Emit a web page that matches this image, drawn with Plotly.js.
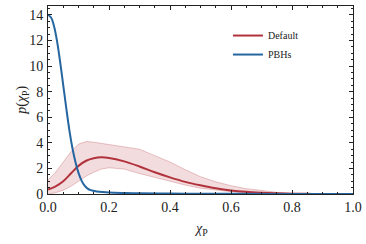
<!DOCTYPE html>
<html><head><meta charset="utf-8">
<script src="https://cdn.plot.ly/plotly-3.0.1.min.js"></script>
<style>html,body{margin:0;padding:0;background:#fff}</style>
</head><body><div id="plot" style="width:366px;height:244px"></div>
<script>
const xDef = [0, 0.025, 0.05, 0.075, 0.1, 0.125, 0.15, 0.175, 0.2, 0.25, 0.3, 0.35, 0.4, 0.45, 0.5, 0.55, 0.6, 0.65, 0.7, 0.75, 0.8, 0.85, 0.9, 1.0];
const defMedian = [0.35, 0.6, 1.0, 1.6, 2.2, 2.6, 2.8, 2.87, 2.82, 2.55, 2.15, 1.7, 1.3, 0.95, 0.68, 0.45, 0.28, 0.17, 0.1, 0.05, 0.02, 0.01, 0.0, 0.0];
const defUpper = [1.1, 1.7, 2.5, 3.3, 3.9, 4.1, 4.05, 3.95, 3.85, 3.7, 3.5, 3.0, 2.5, 1.9, 1.35, 0.95, 0.65, 0.42, 0.25, 0.13, 0.06, 0.02, 0.01, 0.0];
const defLower = [0.0, 0.1, 0.3, 0.6, 1.0, 1.4, 1.7, 1.95, 2.05, 1.95, 1.6, 1.3, 0.95, 0.7, 0.45, 0.3, 0.18, 0.1, 0.05, 0.02, 0.01, 0.0, 0.0, 0.0];
const xPBH = [0, 0.01, 0.02, 0.03, 0.04, 0.05, 0.06, 0.07, 0.08, 0.09, 0.1, 0.11, 0.12, 0.13, 0.14, 0.16, 0.18, 0.2, 0.25, 0.3, 0.4, 0.5, 0.6, 0.8, 1.0];
const pbh = [14.0, 13.8, 13.1, 11.9, 10.3, 8.5, 6.7, 5.0, 3.6, 2.5, 1.65, 1.05, 0.65, 0.42, 0.3, 0.2, 0.15, 0.12, 0.08, 0.05, 0.03, 0.02, 0.01, 0.0, 0.0];
const labels = ["Default", "PBHs"];
const xTitle = '<i>χ</i><sub>P</sub>';
const yTitle = '<i>p</i>(<i>χ</i><sub>P</sub>)';

const red = '#b2323c', blue = '#2566a0';
const serif = 'Liberation Serif, DejaVu Serif, serif';
const traces = [
  {x: xDef, y: defLower, mode: 'lines', line: {color: 'rgba(178,50,60,0.35)', width: 0.8}, showlegend: false, hoverinfo: 'skip'},
  {x: xDef, y: defUpper, mode: 'lines', fill: 'tonexty', fillcolor: 'rgba(178,50,60,0.17)', line: {color: 'rgba(178,50,60,0.35)', width: 0.8}, showlegend: false, hoverinfo: 'skip'},
  {x: xDef, y: defMedian, mode: 'lines', name: labels[0], line: {color: red, width: 2, shape: 'spline'}},
  {x: xPBH, y: pbh, mode: 'lines', name: labels[1], line: {color: blue, width: 2, shape: 'spline'}}
];
const axBase = {
  showline: true, linecolor: '#222', linewidth: 1, mirror: 'allticks',
  ticks: 'inside', ticklen: 4, tickcolor: '#222', showgrid: false, zeroline: false,
  tickfont: {family: serif, size: 14, color: '#222'}
};
const layout = {
  width: 366, height: 244,
  margin: {l: 48, r: 13, t: 6, b: 50},
  paper_bgcolor: '#fff', plot_bgcolor: '#fff',
  font: {family: serif, color: '#222'},
  xaxis: Object.assign({}, axBase, {
    range: [0, 1], dtick: 0.2, tickformat: '.1f',
    minor: {dtick: 0.05, ticks: 'inside', ticklen: 2, tickcolor: '#222'}
  }),
  yaxis: Object.assign({}, axBase, {
    range: [0, 14.7], dtick: 2, ticklabelstandoff: 1,
    minor: {dtick: 0.5, ticks: 'inside', ticklen: 2, tickcolor: '#222'}
  }),
  annotations: [
    {text: xTitle, xref: 'paper', yref: 'paper', x: 0.5, y: -0.19, xanchor: 'center', yanchor: 'middle', showarrow: false, font: {size: 14, family: serif, color: '#222'}},
    {text: yTitle, xref: 'paper', yref: 'paper', x: -0.086, y: 0.5, xanchor: 'center', yanchor: 'middle', textangle: -90, showarrow: false, font: {size: 14, family: serif, color: '#222'}}
  ],
  legend: {x: 0.59, y: 0.92, xanchor: 'left', yanchor: 'top', bgcolor: 'rgba(0,0,0,0)', traceorder: 'normal',
    font: {size: 10, family: serif}, itemwidth: 30, tracegroupgap: 0},
  showlegend: true
};
Plotly.newPlot('plot', traces, layout, {staticPlot: true, displayModeBar: false});
</script></body></html>
